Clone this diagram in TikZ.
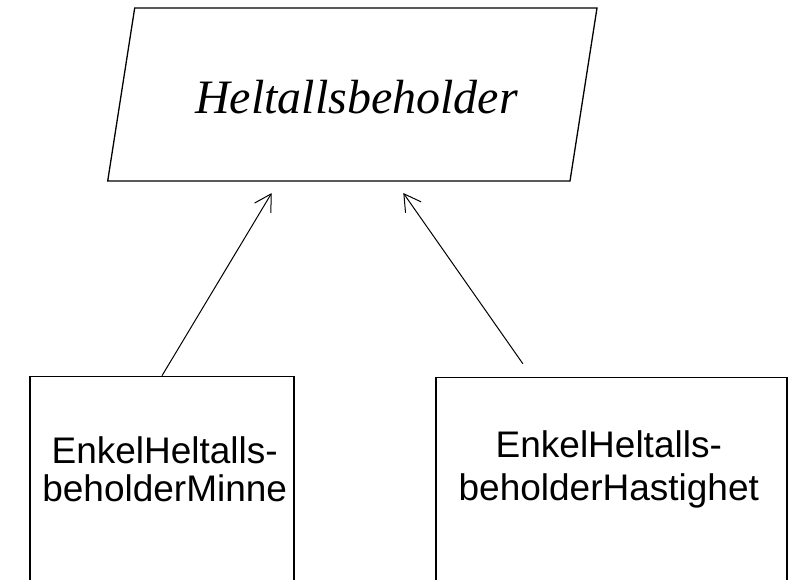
\documentclass[tikz,border=0pt]{standalone}
\usepackage{fontspec}
\setmainfont{Liberation Serif}
\newfontfamily\arial{Liberation Sans}
\usetikzlibrary{arrows.meta,positioning}

\begin{document}
\begin{tikzpicture}[x=1pt, y=-1pt,
	klasse/.style={draw, line width=1.3, minimum width=#1, minimum height=240, inner sep=0, anchor=north},
	tekst/.style={font=\arial\fontsize{37}{38.4}\selectfont, align=center, inner sep=0, anchor=base},
	pil/.style={line width=1, -{Straight Barb[angle=60:19pt, line width=1]}}
]
\useasboundingbox (0,0) rectangle (795,579);

% abstrakt klasse
\coordinate (p1) at (134.7,8);
\coordinate (p2) at (597,8);
\coordinate (p3) at (570,181);
\coordinate (p4) at (107.7,181);
\draw[line width=1.3] (p1) -- (p2) -- (p3) -- (p4) -- cycle;
\node[font=\itshape\fontsize{48}{48}\selectfont, anchor=base] (beholder) at (356.5,113) {Heltallsbeholder};

% subklasser
\node[klasse=264] (minne) at (162,375.7) {};
\node[klasse=351] (hastighet) at (611.5,376.7) {};
\node[tekst] (minnetekst) at (164.7,501.7) {EnkelHeltalls-\\beholderMinne};
\node[tekst] (hastighettekst) at (608.8,500) {EnkelHeltalls-\\[4.3pt]beholderHastighet};

\coordinate (tipp1) at (271.7,193);
\coordinate (tipp2) at (403.3,193);
\coordinate (hstart) at ([xshift=87.5pt, yshift=13pt]hastighet.north west);

\draw[pil] (minne.north) -- (tipp1);
\draw[pil] (hstart) -- (tipp2);
\end{tikzpicture}
\end{document}
